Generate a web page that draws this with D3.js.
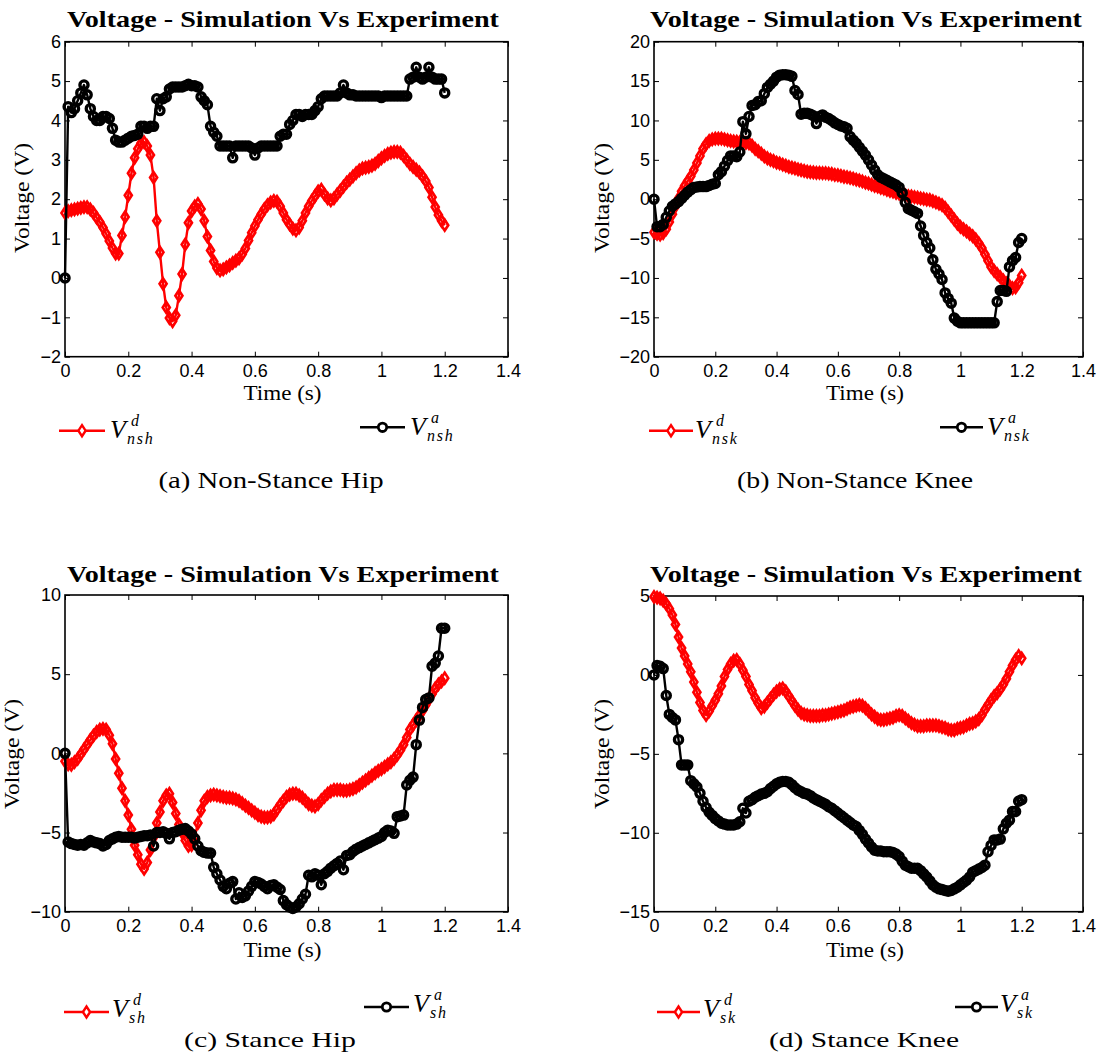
<!DOCTYPE html>
<html>
<head>
<meta charset="utf-8">
<script src="https://cdn.jsdelivr.net/npm/d3@7"></script>
<style>
  html, body { margin: 0; padding: 0; background: #fff; }
  svg { display: block; }
</style>
</head>
<body>
<svg id="chart" width="1120" height="1053"></svg>
<script>
// ---------- DATA ----------
const time = [
  0.00,0.01,0.02,0.03,0.04,0.05,0.06,0.07,0.08,0.09,
  0.10,0.11,0.12,0.13,0.14,0.15,0.16,0.17,0.18,0.19,
  0.20,0.21,0.22,0.23,0.24,0.25,0.26,0.27,0.28,0.29,
  0.30,0.31,0.32,0.33,0.34,0.35,0.36,0.37,0.38,0.39,
  0.40,0.41,0.42,0.43,0.44,0.45,0.46,0.47,0.48,0.49,
  0.50,0.51,0.52,0.53,0.54,0.55,0.56,0.57,0.58,0.59,
  0.60,0.61,0.62,0.63,0.64,0.65,0.66,0.67,0.68,0.69,
  0.70,0.71,0.72,0.73,0.74,0.75,0.76,0.77,0.78,0.79,
  0.80,0.81,0.82,0.83,0.84,0.85,0.86,0.87,0.88,0.89,
  0.90,0.91,0.92,0.93,0.94,0.95,0.96,0.97,0.98,0.99,
  1.00,1.01,1.02,1.03,1.04,1.05,1.06,1.07,1.08,1.09,
  1.10,1.11,1.12,1.13,1.14,1.15,1.16,1.17,1.18,1.19,
  1.20
];

const xTicks = [0, 0.2, 0.4, 0.6, 0.8, 1, 1.2, 1.4];

// (a) Non-Stance Hip
const nshDesired = [
  1.65,1.70,1.72,1.74,1.76,1.78,1.80,1.80,1.74,1.65,
  1.53,1.42,1.28,1.12,0.94,0.76,0.62,0.62,1.08,1.55,
  2.10,2.66,3.05,3.28,3.42,3.45,3.35,3.12,2.55,1.45,
  0.65,-0.15,-0.75,-1.02,-1.10,-0.95,-0.45,0.10,0.85,1.40,
  1.70,1.82,1.88,1.75,1.45,1.05,0.70,0.42,0.25,0.19,
  0.22,0.27,0.32,0.38,0.44,0.50,0.60,0.75,0.95,1.15,
  1.32,1.48,1.62,1.75,1.85,1.92,1.96,1.94,1.82,1.65,
  1.48,1.36,1.25,1.21,1.28,1.45,1.65,1.82,1.96,2.08,
  2.20,2.24,2.12,2.02,1.97,2.02,2.12,2.22,2.32,2.42,
  2.50,2.58,2.66,2.73,2.78,2.80,2.82,2.85,2.90,2.97,
  3.04,3.10,3.15,3.18,3.20,3.20,3.18,3.10,3.00,2.90,
  2.82,2.75,2.68,2.58,2.46,2.30,2.05,1.80,1.60,1.45,
  1.34
];
const nshActual = [
  0,4.35,4.20,4.30,4.50,4.70,4.90,4.65,4.30,4.10,
  4.00,4.00,4.10,4.10,4.05,3.80,3.50,3.45,3.45,3.50,
  3.55,3.60,3.62,3.65,3.85,3.85,3.80,3.85,3.85,4.55,
  4.25,4.55,4.60,4.80,4.85,4.85,4.85,4.85,4.88,4.92,
  4.88,4.88,4.85,4.60,4.50,4.40,3.85,3.70,3.60,3.35,
  3.35,3.35,3.35,3.05,3.35,3.35,3.35,3.35,3.35,3.30,
  3.12,3.30,3.35,3.35,3.35,3.35,3.35,3.35,3.60,3.65,
  3.65,3.90,4.00,4.15,4.15,4.10,4.15,4.15,4.15,4.25,
  4.35,4.55,4.62,4.62,4.62,4.62,4.62,4.70,4.90,4.70,
  4.65,4.65,4.62,4.62,4.62,4.62,4.62,4.62,4.62,4.62,
  4.58,4.62,4.62,4.62,4.62,4.62,4.62,4.62,4.62,5.05,
  5.10,5.35,5.10,5.05,5.10,5.35,5.10,5.05,5.05,5.05,
  4.70
];

// (b) Non-Stance Knee
const nskDesired = [
  -4.2,-4.4,-4.5,-4.3,-3.8,-2.9,-1.9,-0.9,0.1,1.0,
  1.7,2.3,2.9,3.7,4.6,5.5,6.4,7.0,7.4,7.6,
  7.7,7.7,7.7,7.6,7.5,7.4,7.35,7.3,7.25,7.2,
  7.15,7.1,6.8,6.4,6.1,5.8,5.45,5.2,5.0,4.85,
  4.65,4.55,4.4,4.25,4.1,4.0,3.9,3.8,3.7,3.6,
  3.5,3.45,3.4,3.35,3.35,3.3,3.3,3.25,3.2,3.1,
  3.05,2.95,2.85,2.8,2.7,2.6,2.5,2.4,2.25,2.1,
  2.0,1.85,1.7,1.6,1.45,1.35,1.2,1.05,0.95,0.8,
  0.7,0.6,0.5,0.4,0.35,0.25,0.2,0.1,0.05,-0.05,
  -0.1,-0.25,-0.4,-0.55,-0.75,-1.1,-1.6,-2.1,-2.6,-3.1,
  -3.5,-3.8,-4.1,-4.4,-4.7,-5.1,-5.6,-6.2,-7.0,-7.8,
  -8.6,-9.1,-9.5,-9.9,-10.3,-10.7,-11.0,-11.3,-11.2,-10.6,
  -9.7
];
const nskActual = [
  0,-3.5,-3.5,-3.2,-2.3,-1.5,-0.9,-0.6,-0.3,0.1,
  0.5,0.9,1.2,1.5,1.55,1.6,1.6,1.6,1.75,1.9,
  2.0,3.1,3.5,4.2,4.9,5.5,5.5,5.4,6.0,9.85,
  8.3,10.5,11.9,12.0,12.4,12.5,13.4,14.2,14.6,15.0,
  15.5,15.75,15.8,15.8,15.75,15.6,13.8,13.3,10.8,10.9,
  10.9,10.8,10.6,9.6,10.5,10.7,10.4,10.25,10.0,9.7,
  9.5,9.3,9.2,9.0,7.95,7.5,7.1,6.6,6.1,5.6,
  5.0,4.35,3.7,3.1,2.8,2.6,2.4,2.2,2.0,1.8,
  1.5,0.8,-0.4,-1.2,-1.4,-1.6,-1.8,-3.4,-4.6,-5.5,
  -6.2,-7.7,-8.9,-9.5,-10.2,-11.9,-12.6,-13.2,-15.1,-15.5,
  -15.7,-15.7,-15.7,-15.7,-15.7,-15.7,-15.7,-15.7,-15.7,-15.7,
  -15.7,-15.7,-13.0,-11.6,-11.6,-11.7,-8.6,-7.8,-7.4,-5.5,
  -5.0
];

// (c) Stance Hip
const shDesired = [
  -0.5,-0.7,-0.72,-0.55,-0.35,-0.05,0.25,0.55,0.85,1.12,
  1.35,1.5,1.55,1.5,1.15,0.6,-0.35,-1.25,-2.2,-3.0,
  -3.9,-4.8,-5.8,-6.4,-7.0,-7.3,-6.9,-6.1,-5.3,-4.4,
  -3.7,-3.0,-2.65,-2.55,-3.1,-3.8,-4.5,-5.0,-5.5,-5.85,
  -5.8,-5.3,-4.4,-3.6,-3.0,-2.75,-2.65,-2.6,-2.65,-2.7,
  -2.75,-2.8,-2.8,-2.85,-2.9,-3.0,-3.15,-3.3,-3.45,-3.6,
  -3.75,-3.9,-4.0,-4.05,-4.05,-4.0,-3.85,-3.55,-3.25,-3.0,
  -2.75,-2.6,-2.55,-2.55,-2.65,-2.8,-3.0,-3.2,-3.3,-3.35,
  -3.2,-2.95,-2.75,-2.55,-2.4,-2.3,-2.3,-2.3,-2.35,-2.35,
  -2.3,-2.25,-2.15,-2.0,-1.85,-1.7,-1.55,-1.4,-1.25,-1.1,
  -1.0,-0.85,-0.7,-0.55,-0.35,-0.1,0.2,0.55,1.0,1.5,
  1.8,2.1,2.4,2.7,3.05,3.4,3.75,4.1,4.35,4.55,
  4.75
];
const shActual = [
  0,-5.6,-5.7,-5.75,-5.8,-5.75,-5.8,-5.65,-5.5,-5.6,
  -5.65,-5.7,-5.85,-5.75,-5.5,-5.4,-5.3,-5.25,-5.3,-5.3,
  -5.3,-5.3,-5.35,-5.3,-5.25,-5.2,-5.2,-5.15,-5.85,-5.0,
  -5.0,-4.95,-5.05,-5.4,-5.0,-4.95,-4.85,-4.8,-4.75,-4.9,
  -5.1,-5.4,-5.85,-6.15,-6.25,-6.3,-6.3,-7.2,-7.6,-8.0,
  -8.4,-8.55,-8.2,-8.1,-9.2,-8.8,-9.1,-9.0,-8.7,-8.4,
  -8.1,-8.15,-8.25,-8.4,-8.55,-8.35,-8.3,-8.45,-8.6,-9.3,
  -9.55,-9.7,-9.8,-9.7,-9.5,-9.2,-8.9,-7.7,-7.8,-7.6,
  -7.7,-8.3,-7.6,-7.45,-7.25,-7.1,-6.95,-6.8,-7.35,-6.45,
  -6.4,-6.2,-6.05,-5.95,-5.85,-5.75,-5.65,-5.55,-5.45,-5.35,
  -5.25,-5.0,-4.85,-4.9,-5.05,-4.0,-3.95,-3.9,-2.0,-1.7,
  -1.5,0.55,2.1,2.9,3.4,3.5,5.5,5.7,6.15,7.9,
  7.9
];

// (d) Stance Knee
const skDesired = [
  4.95,4.9,4.85,4.7,4.5,4.2,3.8,3.2,2.4,1.7,
  1.2,0.7,0.2,-0.45,-1.1,-1.75,-2.25,-2.55,-2.3,-1.95,
  -1.6,-1.2,-0.7,-0.1,0.35,0.7,0.9,0.95,0.7,0.3,
  -0.1,-0.6,-1.0,-1.45,-1.8,-2.1,-2.0,-1.75,-1.5,-1.25,
  -1.05,-0.9,-0.85,-1.05,-1.35,-1.65,-1.95,-2.2,-2.4,-2.5,
  -2.55,-2.6,-2.6,-2.6,-2.6,-2.55,-2.55,-2.5,-2.45,-2.4,
  -2.35,-2.3,-2.25,-2.15,-2.05,-2.0,-1.95,-1.9,-1.95,-2.1,
  -2.3,-2.5,-2.65,-2.8,-2.85,-2.85,-2.8,-2.75,-2.7,-2.6,
  -2.55,-2.6,-2.75,-2.9,-3.05,-3.15,-3.25,-3.25,-3.25,-3.2,
  -3.2,-3.2,-3.2,-3.25,-3.3,-3.35,-3.45,-3.5,-3.5,-3.4,
  -3.35,-3.3,-3.2,-3.1,-3.05,-2.95,-2.8,-2.55,-2.2,-1.9,
  -1.6,-1.35,-1.15,-0.9,-0.6,-0.25,0.2,0.6,0.95,1.2,
  1.05
];
const skActual = [
  0,0.6,0.55,0.4,-1.3,-2.5,-2.7,-2.85,-4.1,-5.7,
  -5.7,-5.7,-6.7,-6.9,-7.1,-7.5,-8.0,-8.4,-8.7,-8.9,
  -9.1,-9.25,-9.4,-9.45,-9.5,-9.5,-9.5,-9.45,-9.3,-8.45,
  -8.75,-8.0,-7.9,-7.75,-7.65,-7.55,-7.5,-7.4,-7.2,-7.05,
  -6.9,-6.8,-6.75,-6.75,-6.8,-6.95,-7.15,-7.3,-7.4,-7.5,
  -7.55,-7.65,-7.8,-7.9,-8.0,-8.1,-8.2,-8.35,-8.45,-8.6,
  -8.75,-8.9,-9.05,-9.2,-9.35,-9.5,-9.6,-9.85,-10.1,-10.4,
  -10.65,-10.9,-11.1,-11.15,-11.15,-11.2,-11.2,-11.2,-11.25,-11.35,
  -11.5,-11.8,-12.05,-12.15,-12.25,-12.25,-12.25,-12.4,-12.6,-12.8,
  -13.05,-13.3,-13.45,-13.55,-13.6,-13.65,-13.7,-13.65,-13.55,-13.45,
  -13.3,-13.15,-13.0,-12.8,-12.5,-12.4,-12.3,-12.2,-12.05,-11.2,
  -10.8,-10.45,-10.45,-10.4,-9.75,-9.4,-9.2,-8.65,-8.65,-8.0,
  -7.9
];

const yTicksA = [-2, -1, 0, 1, 2, 3, 4, 5, 6];
const yTicksB = [-20, -15, -10, -5, 0, 5, 10, 15, 20];
const yTicksC = [-10, -5, 0, 5, 10];
const yTicksD = [-15, -10, -5, 0, 5];

const titleText = "Voltage - Simulation Vs Experiment";
const xLabelText = "Time (s)";
const yLabelText = "Voltage (V)";
const captions = ["(a) Non-Stance Hip", "(b) Non-Stance Knee", "(c) Stance Hip", "(d) Stance Knee"];
const desiredSub = ["nsh", "nsk", "sh", "sk"];
const actualSub = ["nsh", "nsk", "sh", "sk"];

// ---------- LAYOUT ----------
const serif = "'Liberation Serif', 'Times New Roman', serif";
const sans = "'Liberation Sans', Arial, Helvetica, sans-serif";

const panels = [
  { left: 65,  right: 508,  top: 41.7, bottom: 356.7, yTicks: yTicksA, desired: nshDesired, actual: nshActual,
    titleX: 283, titleY: 26.5, xlabX: 282.5, xlabY: 400, ylabX: 29, ylabY: 198,
    legRed: { x0: 59, x1: 105, y: 430.7, vx: 110, vy: 438 },
    legBlk: { x0: 360, x1: 405, y: 427.3, vx: 410, vy: 435 },
    capX: 271, capY: 488, capW: 225, capF: 23 },
  { left: 654, right: 1083, top: 41.7, bottom: 356.7, yTicks: yTicksB, desired: nskDesired, actual: nskActual,
    titleX: 866, titleY: 26.5, xlabX: 865, xlabY: 400, ylabX: 609, ylabY: 198,
    legRed: { x0: 649, x1: 693, y: 430.7, vx: 695, vy: 438 },
    legBlk: { x0: 940, x1: 983, y: 427.3, vx: 987, vy: 435 },
    capX: 855, capY: 488, capW: 236, capF: 23 },
  { left: 65,  right: 508,  top: 595, bottom: 911.7, yTicks: yTicksC, desired: shDesired, actual: shActual,
    titleX: 283, titleY: 581.5, xlabX: 282.5, xlabY: 956.5, ylabX: 18.5, ylabY: 754,
    legRed: { x0: 64, x1: 109, y: 1012, vx: 112, vy: 1017 },
    legBlk: { x0: 364, x1: 409, y: 1007, vx: 413, vy: 1012 },
    capX: 270, capY: 1047, capW: 172, capF: 22 },
  { left: 654, right: 1083, top: 596, bottom: 911.7, yTicks: yTicksD, desired: skDesired, actual: skActual,
    titleX: 866, titleY: 581.5, xlabX: 865, xlabY: 956.5, ylabX: 609, ylabY: 754,
    legRed: { x0: 657, x1: 700, y: 1012, vx: 703, vy: 1017 },
    legBlk: { x0: 955, x1: 998, y: 1007, vx: 1000, vy: 1012 },
    capX: 864, capY: 1047, capW: 190, capF: 22 }
];

const RED = "#ff0000", BLACK = "#000000";
const diamondPath = "M0,-5.4L3.5,0L0,5.4L-3.5,0Z";
const legDiamond = "M0,-5.5L3.6,0L0,5.5L-3.6,0Z";

const svg = d3.select("#chart");
svg.append("rect").attr("width", 1120).attr("height", 1053).attr("fill", "#fff");

const fmtY = d => d < 0 ? "\u2212" + Math.abs(d) : String(d);
const fmtX = d => String(+d.toFixed(1));

panels.forEach((p, i) => {
  const yDom = [p.yTicks[0], p.yTicks[p.yTicks.length - 1]];
  const x = d3.scaleLinear().domain([0, 1.4]).range([p.left, p.right]);
  const y = d3.scaleLinear().domain(yDom).range([p.bottom, p.top]);
  const g = svg.append("g");

  // axes (ticks inward on all 4 sides)
  const axB = d3.axisBottom(x).tickValues(xTicks).tickFormat(fmtX).tickSizeInner(-5).tickSizeOuter(0).tickPadding(8);
  const axT = d3.axisTop(x).tickValues(xTicks).tickFormat("").tickSizeInner(-5).tickSizeOuter(0);
  const axL = d3.axisLeft(y).tickValues(p.yTicks).tickFormat(fmtY).tickSizeInner(-5).tickSizeOuter(0).tickPadding(4);
  const axR = d3.axisRight(y).tickValues(p.yTicks).tickFormat("").tickSizeInner(-5).tickSizeOuter(0);

  const gB = g.append("g").attr("transform", `translate(0,${p.bottom})`).call(axB);
  const gT = g.append("g").attr("transform", `translate(0,${p.top})`).call(axT);
  const gL = g.append("g").attr("transform", `translate(${p.left},0)`).call(axL);
  const gR = g.append("g").attr("transform", `translate(${p.right},0)`).call(axR);
  [gB, gT, gL, gR].forEach(a => {
    a.select(".domain").remove();
    a.selectAll(".tick line").attr("stroke", "#000").attr("stroke-width", 1);
    a.selectAll(".tick text").attr("font-family", sans).attr("font-size", 18).attr("fill", "#000");
  });
  g.append("rect")
    .attr("x", p.left).attr("y", p.top)
    .attr("width", p.right - p.left).attr("height", p.bottom - p.top)
    .attr("fill", "none").attr("stroke", "#000").attr("stroke-width", 1.6);

  const line = d3.line().x((d, k) => x(time[k])).y(d => y(d));

  // desired (red, diamonds)
  g.append("path").datum(p.desired).attr("d", line)
    .attr("fill", "none").attr("stroke", RED).attr("stroke-width", 2.4).attr("stroke-linejoin", "round");
  g.append("g").selectAll("path").data(p.desired).join("path")
    .attr("d", diamondPath)
    .attr("transform", (d, k) => `translate(${x(time[k])},${y(d)})`)
    .attr("fill", "none").attr("stroke", RED).attr("stroke-width", 2.7);

  // actual (black, circles)
  g.append("path").datum(p.actual).attr("d", line)
    .attr("fill", "none").attr("stroke", BLACK).attr("stroke-width", 2.4).attr("stroke-linejoin", "round");
  g.append("g").selectAll("circle").data(p.actual).join("circle")
    .attr("cx", (d, k) => x(time[k])).attr("cy", d => y(d)).attr("r", 4.1)
    .attr("fill", "none").attr("stroke", BLACK).attr("stroke-width", 3.3);

  // title
  svg.append("text").attr("x", p.titleX).attr("y", p.titleY)
    .attr("text-anchor", "middle").attr("font-family", serif).attr("font-weight", "bold")
    .attr("font-size", 23).attr("textLength", 432).attr("lengthAdjust", "spacingAndGlyphs")
    .text(titleText);
  // x label
  svg.append("text").attr("x", p.xlabX).attr("y", p.xlabY)
    .attr("text-anchor", "middle").attr("font-family", serif).attr("font-size", 21)
    .attr("textLength", 78).attr("lengthAdjust", "spacingAndGlyphs")
    .text(xLabelText);
  // y label
  svg.append("text").attr("transform", `translate(${p.ylabX},${p.ylabY}) rotate(-90)`)
    .attr("text-anchor", "middle").attr("font-family", serif).attr("font-size", 21)
    .attr("textLength", 110).attr("lengthAdjust", "spacingAndGlyphs")
    .text(yLabelText);

  // legend
  const lr = p.legRed, lb = p.legBlk;
  svg.append("line").attr("x1", lr.x0).attr("x2", lr.x1).attr("y1", lr.y).attr("y2", lr.y)
    .attr("stroke", RED).attr("stroke-width", 2.6);
  svg.append("path").attr("d", legDiamond).attr("transform", `translate(${(lr.x0 + lr.x1) / 2},${lr.y})`)
    .attr("fill", "#fff").attr("stroke", RED).attr("stroke-width", 2.4);
  svg.append("line").attr("x1", lb.x0).attr("x2", lb.x1).attr("y1", lb.y).attr("y2", lb.y)
    .attr("stroke", BLACK).attr("stroke-width", 2.6);
  svg.append("circle").attr("cx", (lb.x0 + lb.x1) / 2).attr("cy", lb.y).attr("r", 4.2)
    .attr("fill", "#fff").attr("stroke", BLACK).attr("stroke-width", 2.8);

  const mathLabel = (L, sup, sub) => {
    const t = svg.append("text").attr("x", L.vx).attr("y", L.vy)
      .attr("font-family", serif).attr("font-style", "italic");
    t.append("tspan").attr("font-size", 26).text("V");
    t.append("tspan").attr("x", L.vx + 21).attr("y", L.vy - 12).attr("font-size", 16).text(sup);
    t.append("tspan").attr("x", L.vx + 17).attr("y", L.vy + 6).attr("font-size", 16)
      .attr("letter-spacing", 1.8).text(sub);
  };
  mathLabel(lr, "d", desiredSub[i]);
  mathLabel(lb, "a", actualSub[i]);

  // caption
  svg.append("text").attr("x", p.capX).attr("y", p.capY)
    .attr("text-anchor", "middle").attr("font-family", serif).attr("font-size", p.capF)
    .attr("textLength", p.capW).attr("lengthAdjust", "spacingAndGlyphs")
    .text(captions[i]);
});
</script>
</body>
</html>
